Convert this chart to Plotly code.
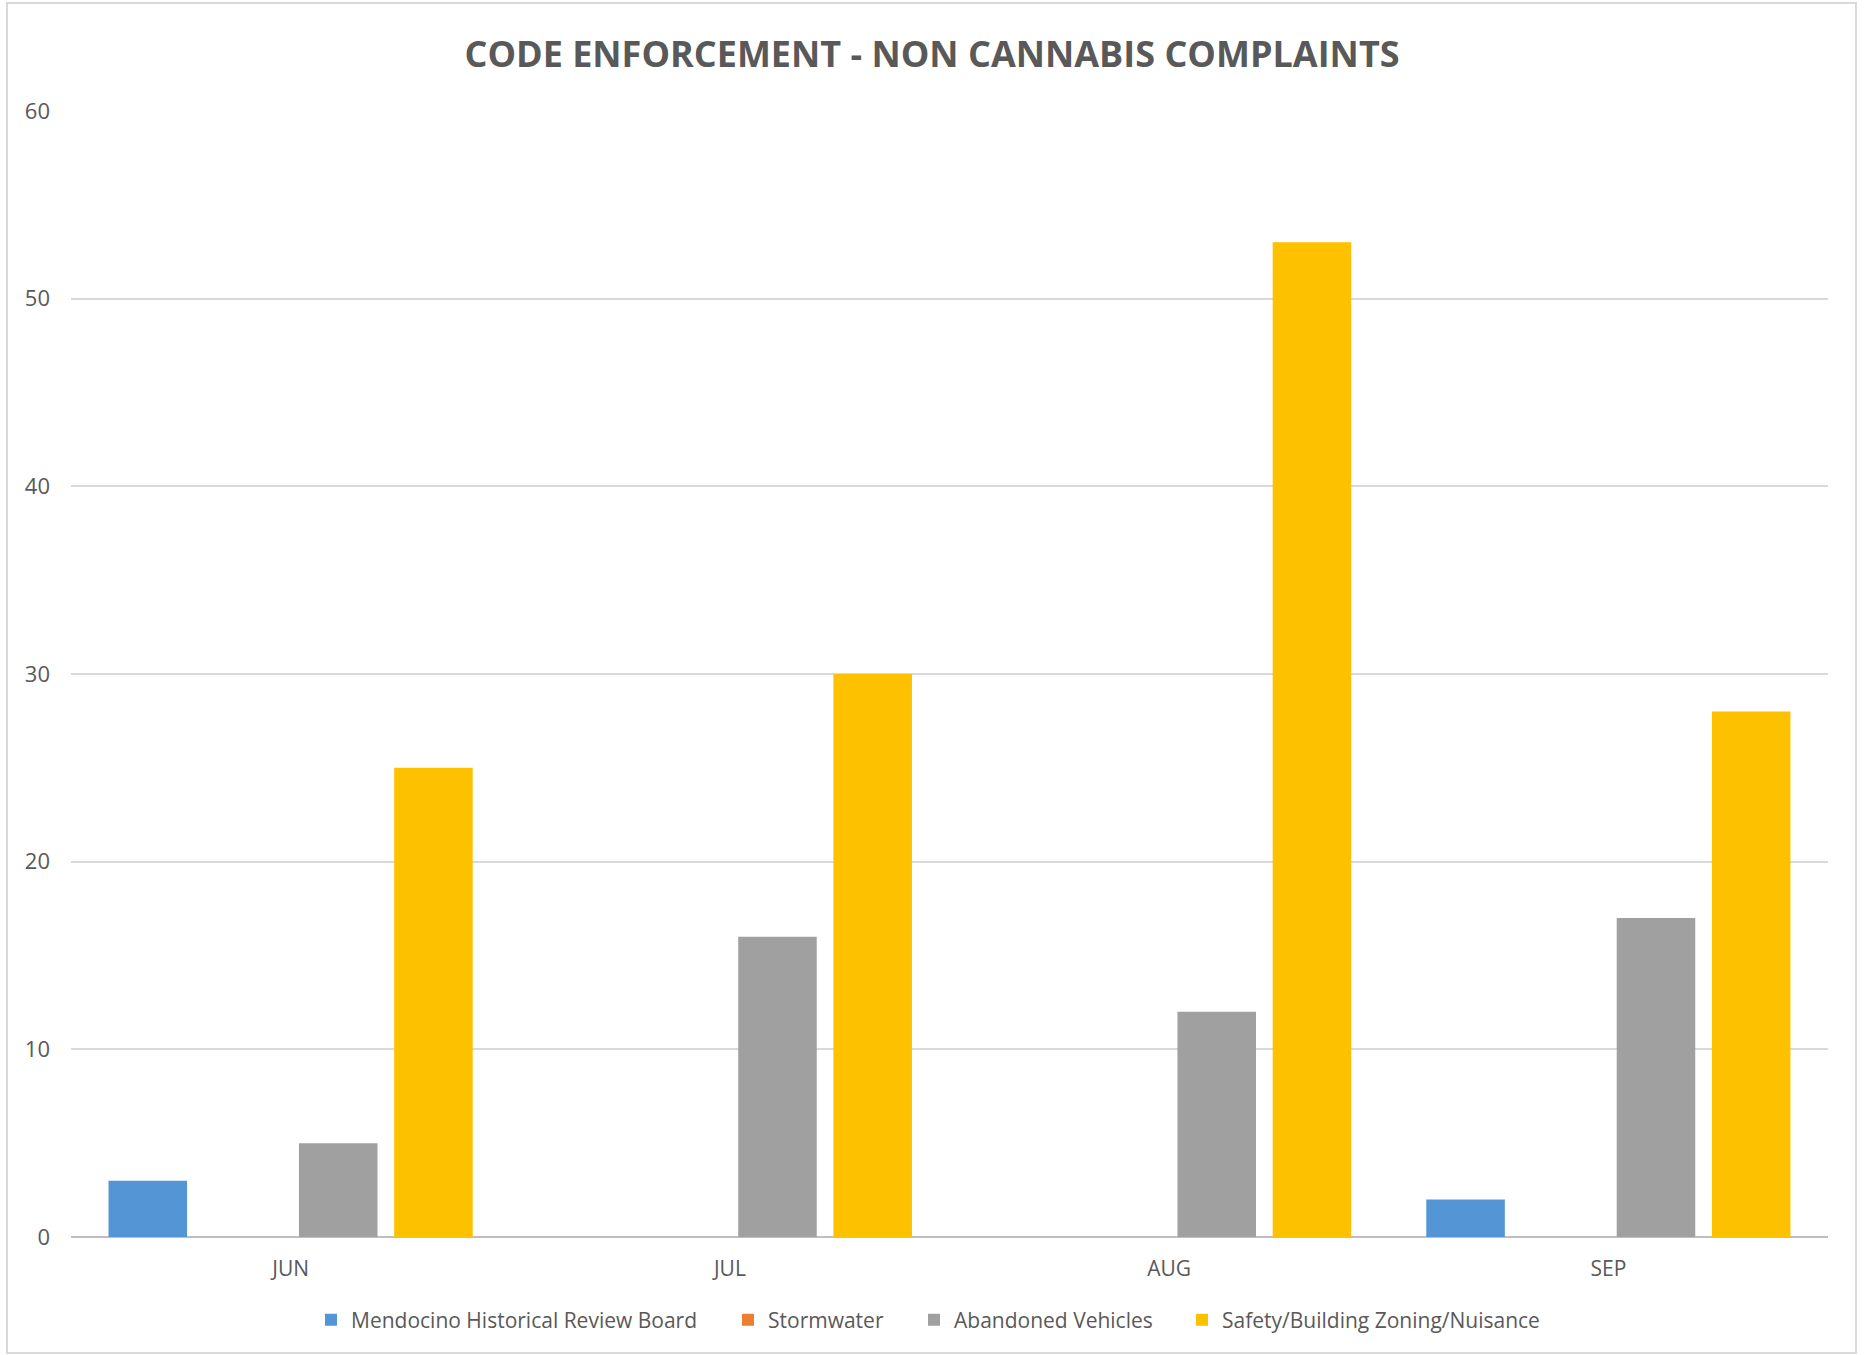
import plotly.graph_objects as go

months = ["JUN", "JUL", "AUG", "SEP"]
series_names = ["Mendocino Historical Review Board", "Stormwater",
                "Abandoned Vehicles", "Safety/Building Zoning/Nuisance"]
mhrb = [3, 0, 0, 2]
stormwater = [0, 0, 0, 0]
abandoned = [5, 16, 12, 17]
safety = [25, 30, 53, 28]
y_ticks = [0, 10, 20, 30, 40, 50, 60]

colors = ["#5496D5", "#ED7D31", "#A0A0A0", "#FDC100"]
values = [mhrb, stormwater, abandoned, safety]

W, H = 1864, 1355
ml, mr, mt, mb = 71, 36, 111, 118
pw = W - ml - mr
ph = H - mt - mb

legend_ids = ["legend", "legend2", "legend3", "legend4"]
legend_text_x = [351, 768, 954, 1222]

fig = go.Figure()
for name, vals, col, lid in zip(series_names, values, colors, legend_ids):
    fig.add_trace(go.Bar(x=months, y=vals, name=name, legend=lid,
                         marker=dict(color=col, line=dict(width=0))))

legend_y = -(1320 - mt - ph) / ph
legends = {}
for lid, tx in zip(legend_ids, legend_text_x):
    legends[lid] = dict(orientation="h", x=(tx - 40 - ml) / pw, xanchor="left",
                        y=legend_y, yanchor="middle",
                        font=dict(size=21, color="#595959"), itemwidth=30,
                        bgcolor="rgba(0,0,0,0)")

fig.update_layout(
    width=W, height=H,
    margin=dict(l=ml, r=mr, t=mt, b=mb),
    paper_bgcolor="white", plot_bgcolor="white",
    barmode="group", bargap=0.133, bargroupgap=0.175,
    title=dict(text="<b>CODE ENFORCEMENT - NON CANNABIS COMPLAINTS</b>",
               x=932 / W, xref="container", xanchor="center",
               y=1 - 54 / H, yanchor="middle", yref="container",
               font=dict(family="Open Sans", size=36, color="#595959")),
    font=dict(family="Open Sans", color="#595959", size=20),
    xaxis=dict(showgrid=False, showline=False, ticks="", tickfont=dict(size=21, color="#595959"),
               ticklabelstandoff=17),
    yaxis=dict(range=[0, 60], tickvals=y_ticks, showgrid=True, gridcolor="#D9D9D9",
               gridwidth=1.5, zeroline=True, zerolinecolor="#BFBFBF", zerolinewidth=2,
               showline=False, ticks="", tickfont=dict(size=22, color="#595959"),
               ticklabelstandoff=20),
    showlegend=True,
    **legends,
)

fig.add_shape(type="rect", xref="paper", yref="paper",
              x0=(7 - ml) / pw, x1=(1856 - ml) / pw,
              y0=(H - mb - 1353) / ph, y1=(H - mb - 3) / ph,
              line=dict(color="#D9D9D9", width=2), fillcolor="rgba(0,0,0,0)", layer="below")

fig.write_html("out.html", config={"displayModeBar": False},
               post_script="document.body.style.margin='0';document.body.style.overflow='hidden';")
